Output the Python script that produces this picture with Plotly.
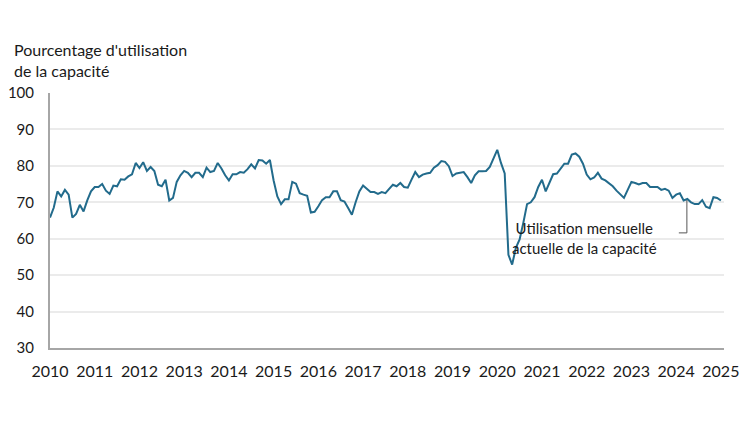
import plotly.graph_objects as go

start_year = 2010
utilisation = [
    # 2010
    65.8, 68.5, 73.0, 71.6, 73.4, 72.1, 65.8, 66.8, 69.3, 67.5, 70.5, 73.0,
    # 2011
    74.2, 74.2, 75.0, 73.2, 72.3, 74.6, 74.4, 76.3, 76.2, 77.1, 77.7, 80.8,
    # 2012
    79.4, 81.0, 78.6, 79.7, 78.6, 74.8, 74.4, 76.2, 70.5, 71.2, 75.6, 77.4,
    # 2013
    78.6, 78.1, 76.9, 78.1, 78.1, 76.9, 79.5, 78.3, 78.6, 80.8, 79.3, 77.4,
    # 2014
    76.0, 77.7, 77.7, 78.3, 78.1, 79.1, 80.4, 79.3, 81.6, 81.5, 80.6, 81.6,
    # 2015
    76.0, 71.6, 69.5, 70.8, 70.8, 75.6, 75.1, 72.5, 72.1, 71.8, 67.2, 67.4,
    # 2016
    68.9, 70.6, 71.4, 71.4, 73.0, 73.0, 70.6, 70.2, 68.4, 66.6, 70.0, 73.0,
    # 2017
    74.6, 73.7, 72.8, 72.8, 72.3, 72.8, 72.5, 73.7, 74.8, 74.4, 75.3, 74.2,
    # 2018
    74.0, 76.2, 78.3, 76.9, 77.6, 77.9, 78.1, 79.5, 80.2, 81.3, 81.1, 79.9,
    # 2019
    77.2, 77.9, 78.1, 78.3, 76.9, 75.3, 77.4, 78.5, 78.5, 78.6, 79.7, 82.3,
    # 2020
    84.4, 80.8, 77.9, 55.6, 52.9, 57.5, 59.8, 64.4, 69.5, 70.0, 71.4, 74.2,
    # 2021
    76.2, 73.0, 75.6, 77.7, 77.9, 79.1, 80.6, 80.6, 83.1, 83.4, 82.5, 80.6,
    # 2022
    77.6, 76.3, 76.8, 78.1, 76.5, 76.0, 75.1, 74.4, 73.2, 72.1, 71.2, 73.4,
    # 2023
    75.6, 75.3, 74.9, 75.3, 75.3, 74.2, 74.2, 74.2, 73.4, 73.7, 73.2, 71.2,
    # 2024
    72.1, 72.5, 70.5, 70.9, 70.0, 69.5, 69.5, 70.6, 68.8, 68.4, 71.4, 71.2,
    # 2025
    70.5,
]
year_ticks = list(range(2010, 2026))
y_ticks = [30, 40, 50, 60, 70, 80, 90, 100]

y_title = "Pourcentage d'utilisation<br>de la capacité"
series_label = "Utilisation mensuelle<br>actuelle de la capacité"

x_vals = [start_year + i / 12 for i in range(len(utilisation))]

FONT = "Lato"
TEXT = "#1a1a1a"

fig = go.Figure()
fig.add_trace(go.Scatter(
    x=x_vals, y=utilisation, mode="lines",
    line=dict(color="#226b8c", width=2),
    hoverinfo="skip", showlegend=False,
))

# the page body has an 8px margin, so the figure is 8px smaller and its margins shifted
fig.update_layout(
    width=742, height=414,
    margin=dict(l=42, r=26, t=85, b=74),
    paper_bgcolor="white", plot_bgcolor="white",
    font=dict(family=FONT, size=16, color=TEXT),
    xaxis=dict(
        range=[2010, 2025.07], tickvals=year_ticks,
        ticktext=[str(y) for y in year_ticks],
        showgrid=False, zeroline=False, automargin=False,
        showline=True, linecolor="#a6a6a6", linewidth=2,
        ticks="outside", ticklen=8, tickcolor="rgba(0,0,0,0)",
        tickfont=dict(family=FONT, size=16, color=TEXT),
    ),
    yaxis=dict(
        range=[30, 100], tickvals=y_ticks,
        showgrid=True, gridcolor="#ebebeb", gridwidth=2,
        zeroline=False, automargin=False,
        showline=True, linecolor="#a6a6a6", linewidth=2,
        ticks="outside", ticklen=11, tickcolor="rgba(0,0,0,0)",
        tickfont=dict(family=FONT, size=15, color=TEXT),
    ),
    annotations=[
        dict(text=y_title, xref="paper", yref="paper",
             x=-0.056, y=1.215, xanchor="left", yanchor="top",
             showarrow=False, align="left",
             font=dict(family=FONT, size=16, color=TEXT)),
        dict(text=series_label, xref="x", yref="y",
             x=2021.95, y=60.2, xanchor="center", yanchor="middle",
             showarrow=False, align="center",
             font=dict(family=FONT, size=15, color=TEXT)),
    ],
    shapes=[
        dict(type="line", xref="x", yref="y",
             x0=2024.06, x1=2024.24, y0=61.6, y1=61.6,
             line=dict(color="#555555", width=1)),
        dict(type="line", xref="x", yref="y",
             x0=2024.24, x1=2024.24, y0=61.6, y1=70.6,
             line=dict(color="#555555", width=1)),
    ],
)

fig.write_html("out.html")
